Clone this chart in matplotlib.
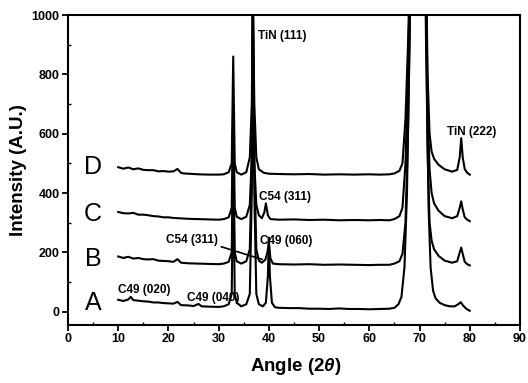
"""XRD patterns of four samples (A-D), offset vertically, with phase labels."""

import matplotlib

matplotlib.use("Agg")
import matplotlib.pyplot as plt  # noqa: E402
from matplotlib.ticker import MultipleLocator  # noqa: E402

plt.rcParams["font.family"] = ["Liberation Sans", "DejaVu Sans"]
plt.rcParams["mathtext.fontset"] = "custom"
plt.rcParams["mathtext.it"] = "Liberation Sans:italic:bold"
plt.rcParams["mathtext.rm"] = "Liberation Sans:bold"

# --- data -----------------------------------------------------------------
angle_a = [10, 11, 12, 12.5, 13, 14, 15, 16, 17, 18, 19, 20, 21, 21.8, 22.5, 24, 25,
           26, 26.6, 28, 30, 31, 32, 32.6, 32.9, 33.2, 33.6, 34.5, 35.5, 36.2, 36.6,
           36.8, 37.1, 37.5, 38, 38.8, 39.4, 39.8, 40.0, 40.2, 40.6, 41.2, 42, 44, 46,
           48, 50, 52, 54, 56, 58, 60, 62, 64, 65, 65.8, 66.4, 67, 67.5, 68, 69.8, 71.3,
           71.8, 72.2, 72.7, 73.2, 74, 75, 76, 77, 77.7, 78.2, 78.7, 79.3, 80]
int_a = [40, 36, 41, 50, 39, 37, 35, 34, 31, 31, 29, 28, 27, 33, 22, 21, 19,
         26, 18, 17, 16, 18, 25, 60, 500, 60, 30, 18, 25, 60, 400,
         1100, 400, 60, 25, 18, 30, 120, 250, 120, 30, 15, 13, 12, 12,
         10, 10, 9, 11, 9, 9, 8, 9, 10, 13, 25, 50, 150, 400, 900, 3000, 900,
         350, 150, 70, 45, 30, 22, 18, 18, 25, 32, 20, 10, 3]

angle_b = [10, 11, 12, 13, 14, 15, 16, 17, 18, 19, 20, 21, 21.8, 22.5, 24, 26, 28,
           30, 31, 32, 32.6, 32.9, 33.2, 33.6, 34.5, 35.5, 36.2, 36.6, 36.8, 37.1,
           37.5, 38, 38.6, 39.3, 39.7, 40, 40.3, 40.8, 42, 45, 48, 51, 54, 57, 60, 62,
           64, 65, 66, 66.6, 67.2, 67.7, 68.3, 69.8, 71.2, 71.6, 72.0, 72.4, 72.9, 73.8,
           75, 76.5, 77.5, 78, 78.3, 78.6, 79, 79.5, 80]
int_b = [186, 181, 185, 179, 181, 177, 176, 177, 172, 171, 170, 168, 177, 165, 163, 162, 161,
         160, 162, 168, 200, 600, 200, 170, 162, 170, 210, 500, 1100, 500,
         210, 172, 165, 175, 200, 232, 180, 162, 160, 159, 160, 158, 159, 158, 157, 158,
         158, 162, 170, 195, 300, 600, 1200, 3000, 1200, 550,
         300, 240, 210, 188,
         172, 165, 170, 200, 216, 195, 168, 160, 156]

angle_c = [10, 11, 12, 13, 14, 15, 16, 17, 18, 19, 20, 21, 22, 24, 26, 28, 30, 31,
           32, 32.6, 32.9, 33.2, 33.6, 34.5, 35.5, 36.2, 36.6, 36.8, 37.1, 37.5, 38,
           38.6, 39.1, 39.4, 39.8, 40.3, 42, 45, 48, 51, 54, 57, 60, 62, 64, 65, 66,
           66.6, 67.2, 67.7, 68.3, 69.8, 71.2, 71.6, 72.0, 72.4, 72.9, 73.8, 75, 76.5,
           77.5, 78, 78.3, 78.6, 79, 79.5, 80]
int_c = [336, 332, 331, 333, 327, 327, 325, 322, 321, 318, 318, 316, 315, 313, 312, 311, 310, 312,
         318, 350, 700, 350, 320, 312, 320, 360, 520, 720, 500, 360, 325,
         315, 335, 365, 325, 312, 310, 311, 309, 310, 308, 309, 308, 309, 308, 312, 322,
         350, 500, 800, 1300, 3000, 1300, 700, 480, 400, 365, 340, 322, 315,
         322, 350, 372, 345, 318, 310, 305]

angle_d = [10, 11, 12, 13, 14, 15, 16, 17, 18, 19, 20, 21, 21.8, 22.5, 23, 24, 26,
           28, 30, 31, 32, 32.6, 32.9, 33.2, 33.6, 34.5, 35.5, 36.2, 36.6, 36.8, 37.1,
           37.5, 38, 39, 40, 42, 45, 48, 51, 54, 57, 60, 62, 64, 65, 66, 66.6, 67.2,
           67.7, 68.3, 69.8, 71.2, 71.6, 72.0, 72.4, 72.9, 73.8, 75, 76.5, 77.5, 78,
           78.3, 78.6, 79, 79.5, 80]
int_d = [487, 482, 486, 480, 483, 478, 477, 477, 473, 474, 472, 473, 481, 468, 466, 465, 463,
         462, 462, 463, 470, 500, 860, 500, 470, 462, 470, 520, 700, 1100, 700,
         520, 480, 468, 465, 464, 463, 464, 462, 463, 462, 463, 462, 463, 466, 475, 500, 650,
         900, 1300, 3000, 1300, 800, 600, 540, 515, 495, 480, 472, 478, 520,
         585, 520, 480, 468, 462]

sample_names = ["A", "B", "C", "D"]
sample_name_y = [30, 176, 328, 487]
sample_name_x = 5

peak_labels = ["TiN (111)", "TiN (222)", "C54 (311)", "C49 (060)", "C49 (020)", "C49 (040)"]
peak_label_xy = [(37.9, 928), (75.4, 604), (38.0, 387), (38.3, 238), (10.0, 72), (23.6, 45)]

# B trace: C54 (311) label with a leader line down to the trace
c54_b_label = "C54 (311)"
c54_b_text_xy = (19.6, 242)
c54_b_point = (38.7, 176)


def main() -> int:
    fig = plt.figure(figsize=(5.28, 3.83), dpi=100)
    ax = fig.add_axes([0.1288, 0.1514, 0.856, 0.8094])

    for xs, ys in [(angle_a, int_a), (angle_b, int_b), (angle_c, int_c), (angle_d, int_d)]:
        ax.plot(xs, ys, color="black", linewidth=1.5, solid_joinstyle="round")

    for name, y in zip(sample_names, sample_name_y):
        ax.text(sample_name_x, y, name, fontsize=18, ha="center", va="center")

    for label, (x, y) in zip(peak_labels, peak_label_xy):
        ax.text(x, y, label, fontsize=8.5, fontweight="bold", ha="left", va="center")

    ax.annotate(c54_b_label, xy=c54_b_point, xytext=c54_b_text_xy,
                fontsize=8.5, fontweight="bold", ha="left", va="center",
                arrowprops=dict(arrowstyle="-", lw=1.2, color="black",
                                relpos=(1.0, 0.0), shrinkA=0, shrinkB=0))

    ax.set_xlim(0, 90)
    ax.set_ylim(-45, 1000)
    ax.xaxis.set_major_locator(MultipleLocator(10))
    ax.xaxis.set_minor_locator(MultipleLocator(5))
    ax.yaxis.set_major_locator(MultipleLocator(200))
    ax.yaxis.set_minor_locator(MultipleLocator(100))
    ax.tick_params(which="major", direction="out", length=4, width=1.3,
                   labelsize=9, pad=2)
    ax.tick_params(which="minor", direction="in", length=2.5, width=1.0)
    for lab in ax.get_xticklabels() + ax.get_yticklabels():
        lab.set_fontweight("bold")
    for spine in ax.spines.values():
        spine.set_linewidth(1.5)

    ax.set_xlabel(r"Angle (2$\theta$)", fontsize=13.5, fontweight="bold")
    ax.set_ylabel("Intensity (A.U.)", fontsize=13.5, fontweight="bold")
    ax.xaxis.set_label_coords(0.504, -0.100)
    ax.yaxis.set_label_coords(-0.090, 0.5)

    fig.savefig("out.png", dpi=100)
    return 0


if __name__ == "__main__":
    raise SystemExit(main())
